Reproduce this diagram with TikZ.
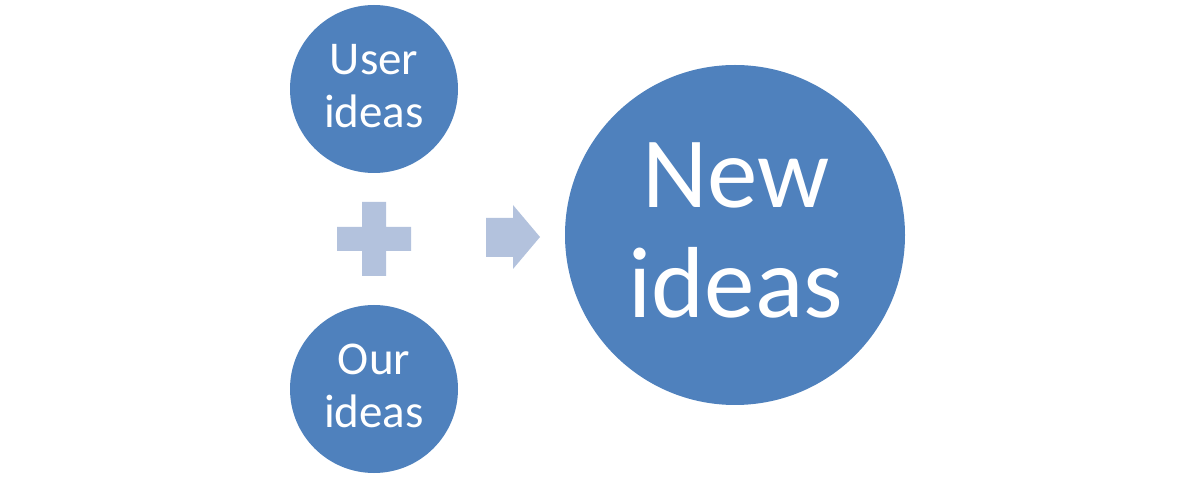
\documentclass[tikz,border=0pt]{standalone}
\usepackage{fontspec}
\setmainfont{Carlito}
\definecolor{circblue}{HTML}{4F81BD}
\definecolor{lightblue}{HTML}{B3C2DD}
\begin{document}
\begin{tikzpicture}[x=1pt,y=-1pt,
  bubble/.style={circle,fill=circblue,draw=none,inner sep=0pt},
  smalltxt/.style={anchor=base,text=white,inner sep=0pt,font=\fontsize{47}{53}\selectfont},
  bigtxt/.style={anchor=base,text=white,inner sep=0pt,font=\fontsize{101}{110}\selectfont},
  shapefill/.style={fill=lightblue,draw=none}]
\useasboundingbox (0,0) rectangle (1195,478);
% circles
\node[bubble,minimum size=168pt] (user) at (374,89) {};
\node[bubble,minimum size=168pt] (our) at (374,389) {};
\node[bubble,minimum size=340pt] (new) at (735,235) {};
% texts
\node[smalltxt] (userA) at (374,75) {User};
\node[smalltxt] (userB) at (374,128) {ideas};
\node[smalltxt] (ourA) at (374,375) {Our};
\node[smalltxt] (ourB) at (374,428) {ideas};
\node[bigtxt] (newA) at (736,208) {New};
\node[bigtxt] (newB) at (736,318) {ideas};
% plus
\fill[shapefill] (362,202) -- (386,202) -- (386,227) -- (411,227) -- (411,251) -- (386,251) -- (386,276) -- (362,276) -- (362,251) -- (337,251) -- (337,227) -- (362,227) -- cycle;
% arrow
\fill[shapefill] (486,218) -- (513,218) -- (513,205) -- (540,237) -- (513,269) -- (513,257) -- (486,257) -- cycle;
\end{tikzpicture}
\end{document}
